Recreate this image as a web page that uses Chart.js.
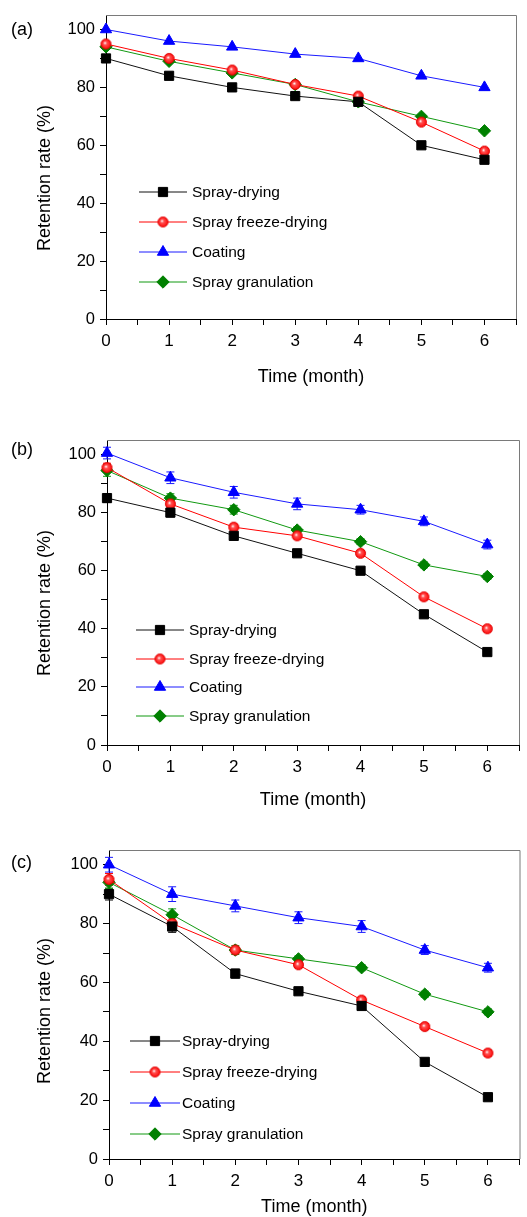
<!DOCTYPE html>
<html>
<head>
<meta charset="utf-8">
<script src="https://cdn.jsdelivr.net/npm/chart.js@4.4.1/dist/chart.umd.min.js"></script>
<style>
  body { margin: 0; background: #fff; }
  .panel { position: absolute; left: 0; width: 527px; }
  canvas { display: block; }
</style>
</head>
<body>
<div class="panel" style="top:0px"><canvas id="chartA" width="527" height="400"></canvas></div>
<div class="panel" style="top:400px"><canvas id="chartB" width="527" height="415"></canvas></div>
<div class="panel" style="top:810px"><canvas id="chartC" width="527" height="407"></canvas></div>
<script>
// --- data ---
const months = [0, 1, 2, 3, 4, 5, 6];
const seriesNames = ['Spray-drying', 'Spray freeze-drying', 'Coating', 'Spray granulation'];
const yTickLabels = [0, 20, 40, 60, 80, 100];
const yTickMarks = [0, 10, 20, 30, 40, 50, 60, 70, 80, 90, 100];
const xTickLabels = [0, 1, 2, 3, 4, 5, 6];

// (a)
const sprayDryingA = [90, 84, 80, 77, 75, 60, 55];
const freezeDryingA = [95, 90, 86, 81, 77, 68, 58];
const coatingA = [100, 96, 94, 91.5, 90, 84, 80];
const granulationA = [94, 89, 85, 81, 75, 70, 65];

// (b)
const sprayDryingB = [85, 80, 72, 66, 60, 45, 32];
const freezeDryingB = [95.5, 83, 75, 72, 66, 51, 40];
const coatingB = [100.5, 92, 87, 83, 81, 77, 69];
const granulationB = [94.5, 85, 81, 74, 70, 62, 58];
const sprayDryingErrB = [1.5, 1.5, 1, 1, 1, 1, 1];
const freezeDryingErrB = [1.5, 1.5, 1, 1, 1, 1, 1];
const coatingErrB = [2, 2, 2, 2, 1.5, 1.5, 1.5];
const granulationErrB = [2, 1.5, 1.5, 1, 1, 1, 1];

// (c)
const sprayDryingC = [90, 79, 63, 57, 52, 33, 21];
const freezeDryingC = [95, 80, 71, 66, 54, 45, 36];
const coatingC = [100, 90, 86, 82, 79, 71, 65];
const granulationC = [94, 83, 71, 68, 65, 56, 50];
const sprayDryingErrC = [2, 2, 1.5, 1, 1, 1, 1];
const freezeDryingErrC = [2, 1.5, 1, 1, 1, 1, 1];
const coatingErrC = [2.5, 2.5, 2, 2, 2, 1.5, 1.5];
const granulationErrC = [2, 2, 1.5, 1, 1, 1, 1];

// --- styles ---
const FONT = "'Liberation Sans', Arial, sans-serif";

function makeSphere(r) {
    const c = document.createElement('canvas');
    const s = Math.ceil(r * 2) + 2;
    c.width = s; c.height = s;
    const g = c.getContext('2d');
    const grad = g.createRadialGradient(s / 2 - r * 0.2, s / 2 - r * 0.2, 0.2, s / 2, s / 2, r);
    grad.addColorStop(0, '#ffffff');
    grad.addColorStop(0.3, '#ff5050');
    grad.addColorStop(1, '#ff0000');
    g.fillStyle = grad;
    g.beginPath(); g.arc(s / 2, s / 2, r - 0.5, 0, Math.PI * 2); g.fill();
    g.strokeStyle = '#e00000'; g.lineWidth = 1; g.stroke();
    return c;
}

const markers = [
    { color: '#000000', line: '#111111', pointStyle: 'rect', radius: 6.5 },
    { color: '#ff0000', line: '#ff0000', pointStyle: makeSphere(5.5), radius: 5.5 },
    { color: '#0000ff', line: '#1a1aff', pointStyle: 'triangle', radius: 6.5 },
    { color: '#008000', line: '#119911', pointStyle: 'rectRot', radius: 6.2 }
];

function buildDatasets(values, errors) {
    return values.map((vals, i) => ({
        label: seriesNames[i],
        data: months.map((m, j) => ({ x: m, y: vals[j] })),
        errors: errors ? errors[i] : null,
        borderColor: markers[i].line,
        backgroundColor: markers[i].color,
        pointBackgroundColor: markers[i].color,
        pointBorderColor: markers[i].color,
        pointStyle: markers[i].pointStyle,
        pointRadius: markers[i].radius,
        pointBorderWidth: 1,
        borderWidth: 1,
        tension: 0,
        clip: false
    }));
}

// error bars, legend, frame and texts
const panelDecor = {
    id: 'panelDecor',
    beforeDatasetsDraw(chart) {
        const ctx = chart.ctx;
        const ys = chart.scales.y;
        chart.data.datasets.forEach((ds, i) => {
            if (!ds.errors) return;
            const meta = chart.getDatasetMeta(i);
            ctx.save();
            ctx.strokeStyle = ds.borderColor;
            ctx.lineWidth = 1;
            meta.data.forEach((pt, j) => {
                const v = ds.data[j].y, e = ds.errors[j];
                const y1 = ys.getPixelForValue(v + e), y2 = ys.getPixelForValue(v - e);
                ctx.beginPath();
                ctx.moveTo(pt.x, y1); ctx.lineTo(pt.x, y2);
                ctx.moveTo(pt.x - 4, y1); ctx.lineTo(pt.x + 4, y1);
                ctx.moveTo(pt.x - 4, y2); ctx.lineTo(pt.x + 4, y2);
                ctx.stroke();
            });
            ctx.restore();
        });
    },
    afterDraw(chart, args, opts) {
        const ctx = chart.ctx;
        const a = chart.chartArea;
        ctx.save();
        // grey top and right frame
        ctx.strokeStyle = '#7a7a7a';
        ctx.lineWidth = 1;
        ctx.beginPath();
        ctx.moveTo(a.left, a.top + 0.5); ctx.lineTo(a.right + 0.5, a.top + 0.5);
        ctx.lineTo(a.right + 0.5, a.bottom);
        ctx.stroke();

        // legend
        const lg = opts.legend;
        chart.data.datasets.forEach((ds, i) => {
            const y = lg.rows[i];
            ctx.strokeStyle = ds.borderColor;
            ctx.lineWidth = 1;
            ctx.beginPath();
            ctx.moveTo(lg.x0, y); ctx.lineTo(lg.x1, y);
            ctx.stroke();
            ctx.fillStyle = ds.pointBackgroundColor;
            ctx.strokeStyle = ds.pointBorderColor;
            Chart.helpers.drawPoint(ctx, {
                pointStyle: ds.pointStyle, radius: ds.pointRadius, rotation: 0, borderWidth: 1
            }, (lg.x0 + lg.x1) / 2, y);
            ctx.fillStyle = '#000';
            ctx.font = '15.5px ' + FONT;
            ctx.textAlign = 'left';
            ctx.textBaseline = 'middle';
            ctx.fillText(ds.label, lg.xt, y + 1);
        });

        // panel letter and axis titles
        ctx.fillStyle = '#000';
        ctx.font = '18px ' + FONT;
        ctx.textAlign = 'left';
        ctx.textBaseline = 'middle';
        ctx.fillText(opts.letter, 11, opts.letterY);
        ctx.textAlign = 'center';
        ctx.fillText('Time (month)', (a.left + a.right) / 2, opts.xTitleY);
        ctx.translate(45, opts.yTitleY);
        ctx.rotate(-Math.PI / 2);
        ctx.fillText('Retention rate (%)', 0, 0);
        ctx.restore();
    }
};

function makePanel(id, values, errors, geo) {
    const canvas = document.getElementById(id);
    new Chart(canvas.getContext('2d'), {
        type: 'line',
        data: { datasets: buildDatasets(values, errors) },
        options: {
            responsive: false,
            animation: false,
            layout: { padding: { top: geo.area.top, right: 527 - geo.area.right, left: 0, bottom: 0 } },
            plugins: {
                legend: { display: false },
                tooltip: { enabled: false },
                panelDecor: geo
            },
            scales: {
                x: {
                    type: 'linear', min: 0, max: 6.5,
                    afterFit(s) { s.height = canvas.height - geo.area.bottom; },
                    afterBuildTicks(s) { s.ticks = s.ticks.filter(t => t.value <= 6.5); },
                    ticks: {
                        stepSize: 0.5, autoSkip: false, maxRotation: 0, padding: 6,
                        color: '#000', font: { family: FONT, size: 17 },
                        callback: v => xTickLabels.includes(v) ? String(v) : ''
                    },
                    grid: { drawOnChartArea: false, drawTicks: true, tickLength: 6, color: '#000' },
                    border: { color: '#000', width: 1 }
                },
                y: {
                    min: 0, max: 105,
                    afterFit(s) { s.width = geo.area.left; },
                    afterBuildTicks(s) { s.ticks = yTickMarks.map(v => ({ value: v })); },
                    ticks: {
                        autoSkip: false, padding: 5,
                        color: '#000', font: { family: FONT, size: 16.5 },
                        callback: v => yTickLabels.includes(v) ? String(v) : ''
                    },
                    grid: { drawOnChartArea: false, drawTicks: true, tickLength: 6, color: '#000' },
                    border: { color: '#000', width: 1 }
                }
            }
        },
        plugins: [panelDecor]
    });
}

makePanel('chartA',
    [sprayDryingA, freezeDryingA, coatingA, granulationA], null,
    { area: { left: 106, top: 15, right: 516, bottom: 319 }, letter: '(a)', letterY: 30, xTitleY: 377, yTitleY: 178,
      legend: { x0: 139, x1: 187, xt: 192, rows: [192, 222, 252, 282] } });

makePanel('chartB',
    [sprayDryingB, freezeDryingB, coatingB, granulationB],
    [sprayDryingErrB, freezeDryingErrB, coatingErrB, granulationErrB],
    { area: { left: 107, top: 40, right: 519, bottom: 345 }, letter: '(b)', letterY: 50, xTitleY: 400, yTitleY: 203,
      legend: { x0: 136, x1: 184, xt: 189, rows: [230, 259, 287, 316] } });

makePanel('chartC',
    [sprayDryingC, freezeDryingC, coatingC, granulationC],
    [sprayDryingErrC, freezeDryingErrC, coatingErrC, granulationErrC],
    { area: { left: 109, top: 40, right: 526, bottom: 349 }, letter: '(c)', letterY: 53, xTitleY: 397, yTitleY: 201,
      legend: { x0: 130, x1: 180, xt: 182, rows: [231, 262, 293, 324] } });
</script>
</body>
</html>
